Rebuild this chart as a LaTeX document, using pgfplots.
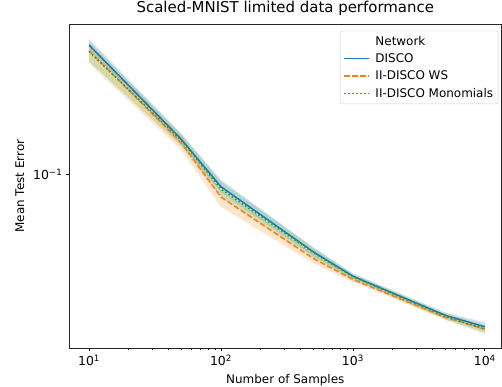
\documentclass[border=0pt]{standalone}
\usepackage{pgfplots}
\pgfplotsset{compat=1.18}
\usepackage{fontspec}
\setmainfont{DejaVu Sans}
\definecolor{c1}{HTML}{1F77B4}
\definecolor{c2}{HTML}{FF7F0E}
\definecolor{c3}{HTML}{2CA02C}
\begin{document}
\begin{tikzpicture}
\useasboundingbox (-69.3bp,-39bp) rectangle (432.7bp,348bp);
\begin{axis}[
  scale only axis, width=432bp, height=324bp,
  xmode=log, ymode=log,
  xmin=7.08, xmax=13335, ymin=0.01005, ymax=0.731,
  axis line style={line width=0.8pt, black!85},
  tick align=outside, tick pos=left,
  major tick length=3.5bp, minor tick length=2bp,
  every tick/.style={black, line width=0.8pt},
  minor tick style={line width=0.6pt},
  xtick={10,100,1000,10000},
  xticklabels={10\textsuperscript{1},10\textsuperscript{2},10\textsuperscript{3},10\textsuperscript{4}},
  ytick={0.1},
  yticklabels={10\textsuperscript{−1}},
  ticklabel style={font=\fontsize{12.5}{14}\selectfont},
  xlabel={Number of Samples},
  ylabel={Mean Test Error},
  xlabel style={font=\fontsize{12}{14}\selectfont, yshift=-1.5bp},
  ylabel style={font=\fontsize{12}{14}\selectfont, yshift=2bp},
  title={Scaled-MNIST limited data performance},
  title style={font=\fontsize{15}{18}\selectfont, at={(0.5,1)}, anchor=base, yshift=5.7bp},
  legend style={at={(0.993,0.979)}, anchor=north east, draw=black!20, rounded corners=2pt,
    font=\fontsize{12}{14}\selectfont, row sep=3bp, inner sep=3bp},
  legend cell align=left,
]
% bands
\addplot[forget plot, fill=c1, fill opacity=0.2, draw=none] table {
10 0.600
50 0.171
100 0.093
500 0.0380
1000 0.0270
5000 0.0161
10000 0.0141
10000 0.0127
5000 0.0149
1000 0.0251
500 0.0340
100 0.079
50 0.148
10 0.520
};
\addplot[forget plot, fill=c2, fill opacity=0.2, draw=none] table {
10 0.560
50 0.165
100 0.081
500 0.0350
1000 0.0257
5000 0.0156
10000 0.0134
10000 0.0124
5000 0.0146
1000 0.0241
500 0.0308
100 0.065
50 0.138
10 0.434
};
\addplot[forget plot, fill=c3, fill opacity=0.2, draw=none] table {
10 0.580
50 0.170
100 0.091
500 0.0380
1000 0.0267
5000 0.0159
10000 0.0137
10000 0.0121
5000 0.0147
1000 0.0248
500 0.0333
100 0.074
50 0.145
10 0.445
};
\addlegendimage{legend image code/.code={}}
\addlegendentry{Network}
\addplot[c1, line width=1.5pt,
  legend image code/.code={\draw[draw=c1, solid, sharp corners, line width=1.5pt] (0bp,0bp) -- (25bp,0bp); \path[draw=none] (29bp,0bp);}] table {
10 0.553
50 0.159
100 0.0849
500 0.0359
1000 0.0260
5000 0.0155
10000 0.0133
};
\addlegendentry{DISCO}
\addplot[c2, line width=1.5pt, dash pattern=on 5.5bp off 2.4bp,
  legend image code/.code={\draw[draw=c2, sharp corners, line width=1.5pt, dash pattern=on 5.5bp off 2.4bp] (0bp,0bp) -- (25bp,0bp); \path[draw=none] (29bp,0bp);}] table {
10 0.513
50 0.152
100 0.0740
500 0.0329
1000 0.0249
5000 0.0151
10000 0.0129
};
\addlegendentry{II-DISCO WS}
\addplot[c3, line width=1.5pt, dash pattern=on 1.5bp off 2.5bp,
  legend image code/.code={\draw[draw=c3, sharp corners, line width=1.5pt, dash pattern=on 1.5bp off 2.5bp] (0bp,0bp) -- (25bp,0bp); \path[draw=none] (29bp,0bp);}] table {
10 0.507
50 0.157
100 0.0823
500 0.0355
1000 0.0258
5000 0.0153
10000 0.0129
};
\addlegendentry{II-DISCO Monomials}
\end{axis}
\end{tikzpicture}
\end{document}
